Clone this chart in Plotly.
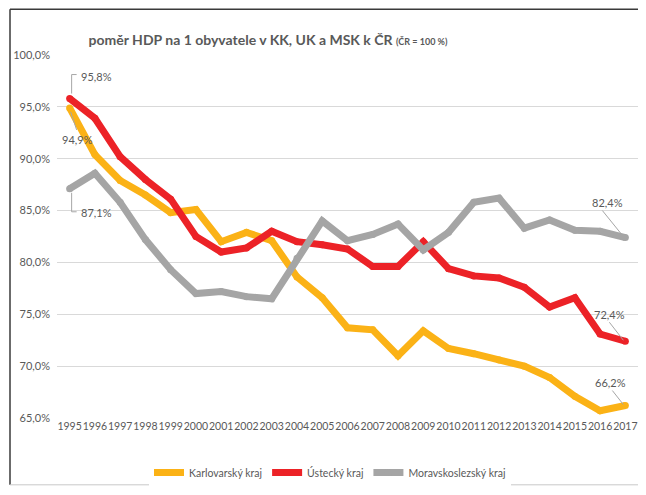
import plotly.graph_objects as go

years = [1995, 1996, 1997, 1998, 1999, 2000, 2001, 2002, 2003, 2004, 2005, 2006,
         2007, 2008, 2009, 2010, 2011, 2012, 2013, 2014, 2015, 2016, 2017]
karlovarsky = [94.9, 90.4, 87.9, 86.5, 84.8, 85.1, 82.0, 82.9, 82.1, 78.6, 76.6, 73.7,
               73.5, 71.0, 73.4, 71.7, 71.2, 70.6, 70.0, 68.9, 67.1, 65.7, 66.2]
ustecky = [95.8, 93.9, 90.2, 88.0, 86.1, 82.5, 81.0, 81.4, 83.0, 82.0, 81.7, 81.3,
           79.6, 79.6, 82.0, 79.4, 78.7, 78.5, 77.6, 75.7, 76.6, 73.1, 72.4]
moravskoslezsky = [87.1, 88.6, 85.8, 82.2, 79.3, 77.0, 77.2, 76.7, 76.5, 80.4, 84.0, 82.1,
                   82.7, 83.7, 81.2, 82.9, 85.8, 86.2, 83.3, 84.1, 83.1, 83.0, 82.4]
series_names = ["Karlovarský kraj", "Ústecký kraj", "Moravskoslezský kraj"]
colors = ["#FBB216", "#EC2227", "#A5A5A5"]
y_ticks = [65, 70, 75, 80, 85, 90, 95, 100]

FONT = "Lato"
TXT = "#595959"
OFF = 8  # default page body margin
W, H = 646 - 2 * OFF, 495 - 2 * OFF
L, T = 57 - OFF, 55 - OFF
R = 0
B = H - (419 - OFF)
pw, ph = W - L - R, H - T - B

fig = go.Figure()
for name, vals, col in zip(series_names, [karlovarsky, ustecky, moravskoslezsky], colors):
    fig.add_trace(go.Scatter(
        x=years, y=vals, name=name, mode="lines+markers",
        line=dict(color=col, width=7), marker=dict(color=col, size=7),
        hoverinfo="skip"))

def fmt(v):
    return f"{v:.1f}".replace(".", ",") + "%"

# data labels: (series values, index, text shift x, y (up), leader path in px relative to point)
labels = [
    (ustecky, 0, 27, 22, "M 2,5 L 2,24 L 7,24"),
    (karlovarsky, 0, 8, -32, "M 1,-4 L 7,-22"),
    (moravskoslezsky, 0, 27, -24, "M 2,-4 L 2,-23 L 7,-23"),
    (moravskoslezsky, -1, -18, 35, "M -23,27 L -2,1"),
    (ustecky, -1, -16, 27, "M -16,19 L -2,1"),
    (karlovarsky, -1, -15, 23, "M -13,15 L -2,1"),
]
for vals, i, dx, dy, path in labels:
    fig.add_annotation(x=years[i], y=vals[i], text=fmt(vals[i]), showarrow=False,
                       xshift=dx, yshift=dy, xanchor="center", yanchor="middle",
                       font=dict(family=FONT, size=11, color=TXT))
    fig.add_shape(type="path", xref="x", yref="y", xsizemode="pixel", ysizemode="pixel",
                  xanchor=years[i], yanchor=vals[i], path=path,
                  line=dict(color="#A6A6A6", width=1), layer="above")

# frame (page pixel coords -> paper)
def px2paper_x(px):
    return (px - OFF - L) / pw

def px2paper_y(py):
    return 1 - (py - OFF - T) / ph

bottom_py = min(493, OFF + H - 1)
fig.add_shape(type="line", xref="paper", yref="paper",
              x0=px2paper_x(10), x1=px2paper_x(10), y0=px2paper_y(9), y1=px2paper_y(bottom_py),
              line=dict(color="#3A3A3A", width=1.5))
fig.add_shape(type="line", xref="paper", yref="paper",
              x0=px2paper_x(10), x1=1, y0=px2paper_y(9), y1=px2paper_y(9),
              line=dict(color="#3A3A3A", width=1.5))
fig.add_shape(type="line", xref="paper", yref="paper",
              x0=px2paper_x(10), x1=1, y0=px2paper_y(bottom_py), y1=px2paper_y(bottom_py),
              line=dict(color="#C8C8C8", width=1))

fig.update_layout(
    width=W, height=H,
    margin=dict(l=L, r=R, t=T, b=B, pad=0),
    paper_bgcolor="white", plot_bgcolor="white",
    separators=", ",
    font=dict(family=FONT, size=11, color=TXT),
    title=dict(
        text="<b>poměr HDP na 1 obyvatele v KK, UK a MSK k ČR</b> <b><span style='font-size:9px'>(ČR = 100 %)</span></b>",
        x=(268 - OFF) / W, xanchor="center", y=1 - (40 - OFF) / H, yanchor="middle",
        font=dict(family=FONT, size=14, color=TXT)),
    xaxis=dict(range=[1994.5, 2017.5], tickmode="array", tickvals=years,
               ticktext=[str(y) for y in years], tickangle=0, showgrid=False,
               zeroline=False, showline=False, ticks="",
               tickfont=dict(family=FONT, size=10.5, color=TXT)),
    yaxis=dict(range=[65, 100], tickmode="array", tickvals=y_ticks,
               ticktext=[fmt(v) for v in y_ticks], showgrid=True, gridcolor="#D9D9D9",
               gridwidth=1, zeroline=False, showline=False, ticks="",
               ticklabelstandoff=6,
               tickfont=dict(family=FONT, size=11, color=TXT)),
    legend=dict(orientation="h", x=px2paper_x(330), xanchor="center",
                y=px2paper_y(474), yanchor="middle",
                font=dict(family=FONT, size=10.5, color=TXT), itemwidth=30,
                tracegroupgap=0),
    showlegend=True,
)

fig.write_html("out.html")
